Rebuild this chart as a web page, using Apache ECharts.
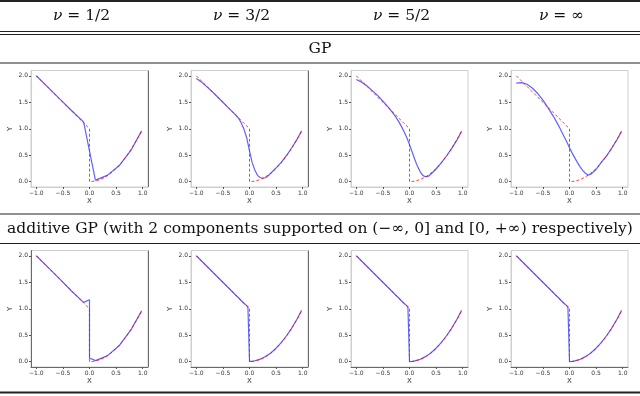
<!DOCTYPE html>
<html><head><meta charset="utf-8">
<script src="https://cdn.jsdelivr.net/npm/echarts@6/dist/echarts.min.js"></script>
<style>html,body{margin:0;padding:0;background:#fff}#c{width:640px;height:396px}</style>
</head><body><div id="c"></div>
<script>
// ---- data ----
const nuLabels = ['1/2', '3/2', '5/2', '∞'];
const rowTitles = ['GP', 'additive GP (with 2 components supported on (−∞, 0] and [0, +∞) respectively)'];
const xTicks = [-1, -0.5, 0, 0.5, 1];
const yTicks = [0, 0.5, 1, 1.5, 2];

// true function (red dashed)
const trueX = [-1, -0.9, -0.8, -0.7, -0.6, -0.5, -0.4, -0.3, -0.2, -0.1, 0, 0, 0.1, 0.2, 0.3, 0.4, 0.5, 0.6, 0.7, 0.8, 0.9, 0.98];
const trueY = [2, 1.9, 1.8, 1.7, 1.6, 1.5, 1.4, 1.3, 1.2, 1.1, 1.0, 0, 0.01, 0.04, 0.09, 0.16, 0.25, 0.36, 0.49, 0.64, 0.81, 0.96];

// GP posterior means (blue), row 1
const gp12X = [-1, -0.778, -0.556, -0.333, -0.111, 0.111, 0.333, 0.556, 0.778, 0.98];
const gp12Y = [2.0, 1.78, 1.56, 1.34, 1.13, 0.03, 0.12, 0.30, 0.59, 0.96];
const gpGridX = [-1, -0.9, -0.8, -0.7, -0.6, -0.5, -0.4, -0.3, -0.25, -0.2, -0.15, -0.1, -0.05, 0, 0.05, 0.1, 0.15, 0.2, 0.25, 0.3, 0.35, 0.4, 0.5, 0.6, 0.7, 0.8, 0.9, 0.98];
const gp32Y = [1.95, 1.88, 1.79, 1.70, 1.60, 1.50, 1.40, 1.30, 1.25, 1.19, 1.10, 0.98, 0.82, 0.58, 0.36, 0.22, 0.12, 0.08, 0.065, 0.075, 0.11, 0.16, 0.26, 0.37, 0.50, 0.65, 0.81, 0.96];
const gp52Y = [1.93, 1.88, 1.81, 1.72, 1.63, 1.52, 1.41, 1.28, 1.21, 1.13, 1.04, 0.94, 0.83, 0.70, 0.56, 0.42, 0.29, 0.19, 0.12, 0.095, 0.10, 0.14, 0.24, 0.36, 0.49, 0.64, 0.80, 0.95];
const gpInfY = [1.86, 1.87, 1.84, 1.77, 1.67, 1.54, 1.39, 1.23, 1.14, 1.05, 0.95, 0.85, 0.75, 0.64, 0.54, 0.45, 0.36, 0.28, 0.21, 0.16, 0.125, 0.14, 0.23, 0.37, 0.49, 0.645, 0.805, 0.95];

// additive GP posterior means (blue), row 2
const add12X = [-1, -0.778, -0.556, -0.333, -0.111, 0, 0, 0.111, 0.333, 0.556, 0.778, 0.98];
const add12Y = [2, 1.78, 1.56, 1.33, 1.12, 1.17, 0.07, 0.02, 0.11, 0.30, 0.60, 0.96];
const addX = [-1, -0.5, -0.1, -0.03, 0, 0, 0.05, 0.1, 0.2, 0.3, 0.4, 0.5, 0.6, 0.7, 0.8, 0.9, 0.98];
const add32Y = [2, 1.5, 1.1, 1.04, 1.05, 0.005, 0.008, 0.018, 0.048, 0.098, 0.165, 0.255, 0.365, 0.495, 0.645, 0.815, 0.97];
const add52Y = [2, 1.5, 1.1, 1.04, 1.05, 0.0, 0.006, 0.016, 0.046, 0.096, 0.165, 0.255, 0.365, 0.495, 0.645, 0.815, 0.97];
const addInfY = [2, 1.5, 1.1, 1.04, 1.05, 0.0, 0.006, 0.016, 0.046, 0.096, 0.165, 0.255, 0.365, 0.495, 0.645, 0.815, 0.97];

const blueSets = [
  [gp12X, gp12Y], [gpGridX, gp32Y], [gpGridX, gp52Y], [gpGridX, gpInfY],
  [add12X, add12Y], [addX, add32Y], [addX, add52Y], [addX, addInfY]
];

// ---- layout ----
const W = 640;
const colLeft0 = 31, colStep = 160, plotW = 117, plotH = 116.5;
const rowTop = [70.5, 250.5];
const serif = '"DejaVu Serif", "Liberation Serif", serif';
const sans = '"DejaVu Sans", sans-serif';

const zip = (a, b) => a.map((v, i) => [v, b[i]]);
const fmt = v => (v < 0 ? '−' : '') + Math.abs(v).toFixed(1);

const grid = [], xAxis = [], yAxis = [], series = [], graphic = [];
for (let r = 0; r < 2; r++) {
  for (let c = 0; c < 4; c++) {
    const k = r * 4 + c;
    const left = colLeft0 + c * colStep, top = rowTop[r];
    grid.push({left: left, top: top, width: plotW, height: plotH, show: true, borderColor: '#cfcfcf', borderWidth: 1, backgroundColor: '#fff'});
    xAxis.push({
      type: 'value', gridIndex: k, min: -1.1, max: 1.1,
      name: 'X', nameLocation: 'middle', nameGap: 11,
      nameTextStyle: {fontSize: 7, fontFamily: sans, color: '#333'},
      axisLine: {show: true, onZero: false, lineStyle: {color: r === 1 ? '#6a6a6a' : '#cfcfcf', width: 1}},
      axisTick: {show: true, length: 2, customValues: xTicks, lineStyle: {color: '#555'}},
      axisLabel: {customValues: xTicks, formatter: fmt, fontSize: 6, fontFamily: sans, color: '#333', margin: 3},
      splitLine: {show: false}
    });
    yAxis.push({
      type: 'value', gridIndex: k, min: -0.1, max: 2.1,
      name: 'Y', nameLocation: 'middle', nameGap: 17, nameRotate: 90,
      nameTextStyle: {fontSize: 7, fontFamily: sans, color: '#333'},
      axisLine: {show: true, onZero: false, lineStyle: {color: (r === 1 && c === 0) ? '#6a6a6a' : '#cfcfcf', width: 1}},
      axisTick: {show: true, length: 2, customValues: yTicks, lineStyle: {color: '#555'}},
      axisLabel: {customValues: yTicks, formatter: v => v.toFixed(1), fontSize: 6, fontFamily: sans, color: '#333', margin: 3},
      splitLine: {show: false}
    });
    series.push({
      type: 'line', xAxisIndex: k, yAxisIndex: k, showSymbol: false, silent: true,
      data: zip(blueSets[k][0], blueSets[k][1]),
      lineStyle: {color: 'rgba(0,0,255,0.62)', width: 1.2}, z: 2
    });
    series.push({
      type: 'line', xAxisIndex: k, yAxisIndex: k, showSymbol: false, silent: true,
      data: zip(trueX, trueY),
      lineStyle: {color: 'rgba(255,0,0,0.75)', width: 1, type: [3, 2]}, z: 3
    });
    if (c < 2) {
      graphic.push({type: 'line', shape: {x1: left + plotW + 0.5, y1: top, x2: left + plotW + 0.5, y2: top + plotH}, style: {stroke: '#6a6a6a', lineWidth: 1}, z: 10});
    }
  }
}

// table rules
const rules = [[1, 2.2], [31.5, 1], [34.5, 1], [63, 1.2], [214, 1.2], [243.5, 1.2], [392.5, 2]];
rules.forEach(([y, w]) => graphic.push({type: 'line', shape: {x1: 0, y1: y, x2: W, y2: y}, style: {stroke: '#222', lineWidth: w}, z: 10}));

// column headers
nuLabels.forEach((lab, c) => {
  graphic.push({
    type: 'text', x: colLeft0 + c * colStep + plotW / 2 - 8, y: 16,
    style: {
      text: '{i|ν} = ' + lab, align: 'center', verticalAlign: 'middle',
      font: '15.5px ' + serif, fill: '#111',
      rich: {i: {fontStyle: 'italic', fontSize: 15.5, fontFamily: serif}}
    }, z: 10
  });
});
// row titles
graphic.push({type: 'text', x: W / 2, y: 48.5, style: {text: rowTitles[0], align: 'center', verticalAlign: 'middle', font: '15.5px ' + serif, fill: '#111'}, z: 10});
graphic.push({type: 'text', x: W / 2, y: 229, style: {text: rowTitles[1], align: 'center', verticalAlign: 'middle', font: '15.5px ' + serif, fill: '#111'}, z: 10});

const chart = echarts.init(document.getElementById('c'), null, {renderer: 'canvas'});
chart.setOption({animation: false, backgroundColor: '#fff', grid, xAxis, yAxis, series, graphic});
</script></body></html>
